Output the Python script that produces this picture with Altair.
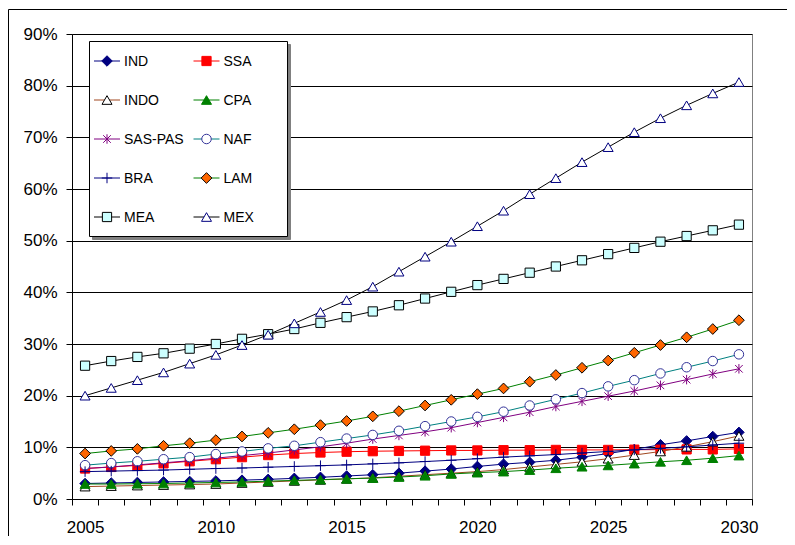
import altair as alt
import pandas as pd

# ---------------- data ----------------
years = list(range(2005, 2031))
series_names = ["IND", "SSA", "INDO", "CPA", "SAS-PAS", "NAF", "BRA", "LAM", "MEA", "MEX"]

IND = [3.0, 3.1, 3.2, 3.3, 3.4, 3.5, 3.65, 3.8, 4.0, 4.2, 4.45, 4.7, 5.0, 5.4, 5.8, 6.3,
       6.75, 7.1, 7.5, 8.1, 8.8, 9.6, 10.5, 11.25, 12.1, 12.9]
SSA = [5.9, 6.2, 6.5, 6.9, 7.3, 7.7, 8.1, 8.5, 8.8, 9.0, 9.15, 9.25, 9.3, 9.35, 9.4, 9.4,
       9.45, 9.45, 9.5, 9.5, 9.5, 9.55, 9.55, 9.6, 9.6, 9.7]
INDO = [2.4, 2.5, 2.6, 2.7, 2.8, 2.9, 3.1, 3.3, 3.5, 3.7, 3.9, 4.1, 4.4, 4.7, 5.0, 5.3,
        5.7, 6.2, 6.7, 7.2, 7.8, 8.5, 9.2, 10.1, 11.1, 12.2]
CPA = [2.9, 2.9, 2.95, 3.0, 3.1, 3.2, 3.3, 3.45, 3.6, 3.75, 3.9, 4.05, 4.25, 4.5, 4.85, 5.1,
       5.3, 5.6, 5.95, 6.25, 6.5, 6.85, 7.2, 7.5, 7.9, 8.4]
SAS_PAS = [5.9, 6.2, 6.6, 7.0, 7.4, 7.9, 8.4, 8.9, 9.5, 10.1, 10.8, 11.6, 12.3, 13.0, 13.8, 14.8,
           15.8, 16.8, 17.9, 18.9, 19.9, 20.9, 22.0, 23.1, 24.2, 25.2]
NAF = [6.55, 6.95, 7.3, 7.7, 8.1, 8.7, 9.2, 9.8, 10.3, 11.0, 11.7, 12.4, 13.2, 14.1, 15.0, 15.9,
       16.9, 18.1, 19.3, 20.5, 21.8, 23.0, 24.3, 25.5, 26.7, 28.0]
BRA = [5.3, 5.4, 5.5, 5.6, 5.75, 5.9, 6.0, 6.15, 6.3, 6.45, 6.6, 6.8, 7.0, 7.25, 7.5, 7.8,
       8.1, 8.35, 8.6, 8.9, 9.2, 9.5, 9.8, 10.1, 10.45, 10.8]
LAM = [8.8, 9.3, 9.7, 10.3, 10.8, 11.4, 12.1, 12.8, 13.5, 14.3, 15.1, 16.0, 17.0, 18.1, 19.2, 20.3,
       21.4, 22.7, 24.0, 25.4, 26.8, 28.3, 29.8, 31.3, 32.9, 34.6]
MEA = [25.8, 26.7, 27.5, 28.2, 29.1, 30.0, 31.0, 31.9, 32.9, 34.1, 35.2, 36.3, 37.5, 38.8, 40.1, 41.4,
       42.6, 43.8, 45.0, 46.2, 47.4, 48.6, 49.8, 50.9, 52.0, 53.1]
MEX = [20.0, 21.5, 23.0, 24.5, 26.2, 27.9, 29.8, 31.8, 34.0, 36.2, 38.5, 41.1, 44.0, 46.9, 49.8, 52.8,
       55.8, 59.0, 62.1, 65.2, 68.1, 71.0, 73.7, 76.2, 78.5, 80.7]

series_values = {"IND": IND, "SSA": SSA, "INDO": INDO, "CPA": CPA, "SAS-PAS": SAS_PAS,
                 "NAF": NAF, "BRA": BRA, "LAM": LAM, "MEA": MEA, "MEX": MEX}

y_ticks = [0.0, 0.1, 0.2, 0.3, 0.4, 0.5, 0.6, 0.7, 0.8, 0.9]
x_labels = [2005, 2010, 2015, 2020, 2025, 2030]

# ---------------- styles ----------------
PLUS = "M-1,0L1,0M0,-1L0,1"
STAR = "M-0.8,-0.8L0.8,0.8M-0.8,0.8L0.8,-0.8M0,-1L0,1"
styles = {
    "IND":     dict(line="#000080", shape="diamond", fill="#000080", stroke="#000080", size=110),
    "SSA":     dict(line="#FF0000", shape="square", fill="#FF0000", stroke="#FF0000", size=85),
    "INDO":    dict(line="#A0461E", shape="triangle-up", fill="#FFFFFF", stroke="#000000", size=100),
    "CPA":     dict(line="#008000", shape="triangle-up", fill="#008000", stroke="#008000", size=100),
    "SAS-PAS": dict(line="#800080", shape=STAR, fill="transparent", stroke="#800080", size=90),
    "NAF":     dict(line="#008080", shape="circle", fill="#FFFFFF", stroke="#333399", size=90),
    "BRA":     dict(line="#000080", shape=PLUS, fill="transparent", stroke="#000080", size=110),
    "LAM":     dict(line="#008000", shape="diamond", fill="#FF6600", stroke="#000000", size=115),
    "MEA":     dict(line="#000000", shape="square", fill="#CCFFFF", stroke="#000000", size=85),
    "MEX":     dict(line="#000000", shape="triangle-up", fill="#FFFFFF", stroke="#000080", size=100),
}

rows = []
for s in series_names:
    for yr, v in zip(years, series_values[s]):
        rows.append({"year": yr, "share": v / 100.0, "series": s})
df = pd.DataFrame(rows)

W, H = 680, 465
half = W / len(years) / 2.0
FONT = "Liberation Sans"

x_enc = alt.X(
    "year:Q",
    scale=alt.Scale(domain=[years[0] - 0.5, years[-1] + 0.5], nice=False, zero=False),
    axis=alt.Axis(
        values=[years[0] - 0.5 + i for i in range(len(years) + 1)],
        labelExpr="indexof(" + str(x_labels) + ", datum.value + 0.5) >= 0 ? format(datum.value + 0.5, 'd') : ''",
        labelOffset=half, labelFlush=False, labelOverlap=False, labelBound=False,
        grid=False, tickSize=6, labelPadding=14, title=None,
        domainColor="black", tickColor="black",
    ),
)
y_enc = alt.Y(
    "share:Q",
    scale=alt.Scale(domain=[0, 0.9], nice=False),
    axis=alt.Axis(
        values=y_ticks, format=".0%", grid=True, gridColor="black", gridWidth=1, gridOpacity=1,
        tickSize=6, labelPadding=9, title=None, domainColor="black", tickColor="black",
    ),
)

one = alt.Data(values=[{"a": 1}])

# chart frame
frame = alt.Chart(one).mark_rect(fill="transparent", stroke="black", strokeWidth=1).encode(
    x=alt.value(-63.5), x2=alt.value(W + 200), y=alt.value(-24.5), y2=alt.value(H + 200)
)

layers = [frame]
base = alt.Chart(df)
for s in series_names:
    st = styles[s]
    sub = base.transform_filter(alt.datum.series == s)
    layers.append(sub.mark_line(color=st["line"], strokeWidth=1).encode(x=x_enc, y=y_enc))
    layers.append(sub.mark_point(shape=st["shape"], size=st["size"], filled=True, fill=st["fill"],
                                 stroke=st["stroke"], strokeWidth=1, opacity=1).encode(x=x_enc, y=y_enc))

# legend
LX0, LY0, LX1, LY1 = 17.5, 7.5, 215.5, 202.5
layers.append(alt.Chart(one).mark_rect(fill="#808080", stroke="#808080").encode(
    x=alt.value(LX0 + 3), x2=alt.value(LX1 + 3), y=alt.value(LY0 + 3), y2=alt.value(LY1 + 3)))
layers.append(alt.Chart(one).mark_rect(fill="white", stroke="black", strokeWidth=1).encode(
    x=alt.value(LX0), x2=alt.value(LX1), y=alt.value(LY0), y2=alt.value(LY1)))

for i, s in enumerate(series_names):
    st = styles[s]
    col, row = i % 2, i // 2
    cx = 35 + col * 99.5
    cy = 27 + row * 39
    ld = alt.Data(values=[{"series": s}])
    layers.append(alt.Chart(ld).mark_rule(color=st["line"], strokeWidth=1).encode(
        x=alt.value(cx - 13), x2=alt.value(cx + 13), y=alt.value(cy)))
    layers.append(alt.Chart(ld).mark_point(shape=st["shape"], size=st["size"], filled=True, fill=st["fill"],
                                           stroke=st["stroke"], strokeWidth=1, opacity=1).encode(
        x=alt.value(cx), y=alt.value(cy)))
    layers.append(alt.Chart(ld).mark_text(align="left", baseline="middle", fontSize=14, font=FONT,
                                          color="black").encode(
        x=alt.value(cx + 17), y=alt.value(cy + 0.5), text="series:N"))

chart = alt.layer(*layers).properties(
    width=W, height=H,
    autosize=alt.AutoSizeParams(type="none"),
    padding={"left": 64, "top": 26, "right": 35, "bottom": 37},
    background="white",
).configure_axis(
    labelFont=FONT, labelFontSize=17, labelColor="black",
).configure_view(stroke="#808080", strokeWidth=1)

chart.save("out.html", embed_options={"renderer": "svg", "actions": False})
